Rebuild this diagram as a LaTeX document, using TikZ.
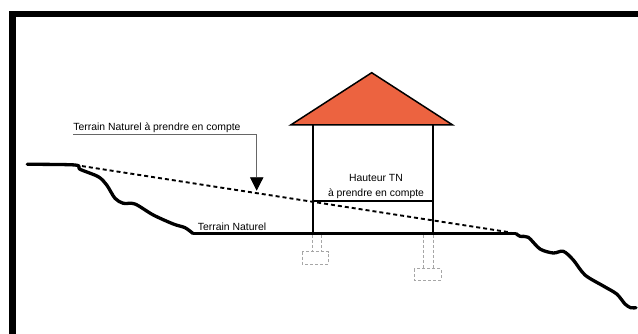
\documentclass[tikz,border=0pt]{standalone}
\usepackage{fontspec}
\setmainfont{Liberation Sans}
\usetikzlibrary{arrows.meta}
\definecolor{roofred}{HTML}{EC6340}

\begin{document}
\begin{tikzpicture}[x=1pt,y=-1pt,
                    terrain/.style={line width=3.3pt,line cap=round,line join=round},
                    wall/.style={line width=2.3pt},
                    footing/.style={gray!70,densely dashed,line width=0.6pt},
                    label/.style={inner sep=0pt,font=\fontsize{10.4}{12}\selectfont}]

 \useasboundingbox (0,0) rectangle (638,334);
 \draw[line width=6.5pt,miter limit=10] (12.25,334) -- (12.25,14.25) -- (638,14.25);

 \coordinate (tnL)  at (75,165);
 \coordinate (tnR)  at (511,232.5);
 \coordinate (grL)  at (193,233.5);
 \coordinate (grR)  at (516,233.5);
 \coordinate (roofT) at (371.7,72.7);
 \coordinate (roofL) at (290.7,125);
 \coordinate (roofR) at (452.7,125);
 \coordinate (wallL) at (312.7,125);
 \coordinate (wallR) at (433,125);
 \coordinate (baseL) at (312.7,233.5);
 \coordinate (baseR) at (433,233.5);
 \coordinate (tnhL) at (312.7,201);
 \coordinate (tnhR) at (433,201);

 % fondations
 \draw[footing] (312.7,235) -- (312.7,251.7) (321.7,235) -- (321.7,251.7);
 \draw[footing] (302.3,251.7) rectangle (328.3,264);
 \draw[footing] (423.3,235) -- (423.3,268.7) (433.3,235) -- (433.3,268.7);
 \draw[footing] (414.3,268.7) rectangle (441,280);

 % maison
 \draw[wall] (wallL) -- (baseL);
 \draw[wall,line width=2pt] (wallR) -- (baseR);
 \draw[line width=1.6pt] (tnhL) -- (tnhR);
 \draw[line width=1.5pt,fill=roofred,line join=miter] (roofT) -- (roofL) -- (roofR) -- cycle;

 % terrain
 \draw[terrain] plot[smooth,tension=0.5] coordinates {(27.3,164.3) (75,165) (80,169.3) (98.3,176.7)
   (106.7,185) (115,198.3) (123.3,203.3) (135,204) (153.3,215) (173.3,224) (185,227.7) (grL)};
 \draw[line width=3.8pt] (grL) -- (grR);
 \draw[terrain] plot[smooth,tension=0.5] coordinates {(grR) (520,236.3) (528.3,237.3) (540,249)
   (553.3,253) (563.3,251.3) (573.3,260) (585,275) (603.3,286) (616.7,294) (625,304) (630.7,307.7) (636,307.7)};
 \draw[line width=1.9pt,dash pattern=on 4pt off 3pt] (tnL) -- (tnR);

 % textes
 \node[label] (tnprise) at (157,127.5) {Terrain Naturel à prendre en compte};
 \node[label] (tnom) at (232,227) {Terrain Naturel};
 \node[label] (hauteur) at (376,178) {Hauteur TN};
 \node[label] (aprendre) at (376,194) {à prendre en compte};

 % fleche
 \coordinate (ldrA) at (73.3,134.3);
 \coordinate (ldrB) at (256.7,134.3);
 \coordinate (ldrC) at (256.7,190.7);
 \draw[gray!80!black,line width=0.8pt,-{Triangle[black,length=13.4pt,width=13.4pt]}] (ldrA) -- (ldrB) -- (ldrC);

\end{tikzpicture}
\end{document}
